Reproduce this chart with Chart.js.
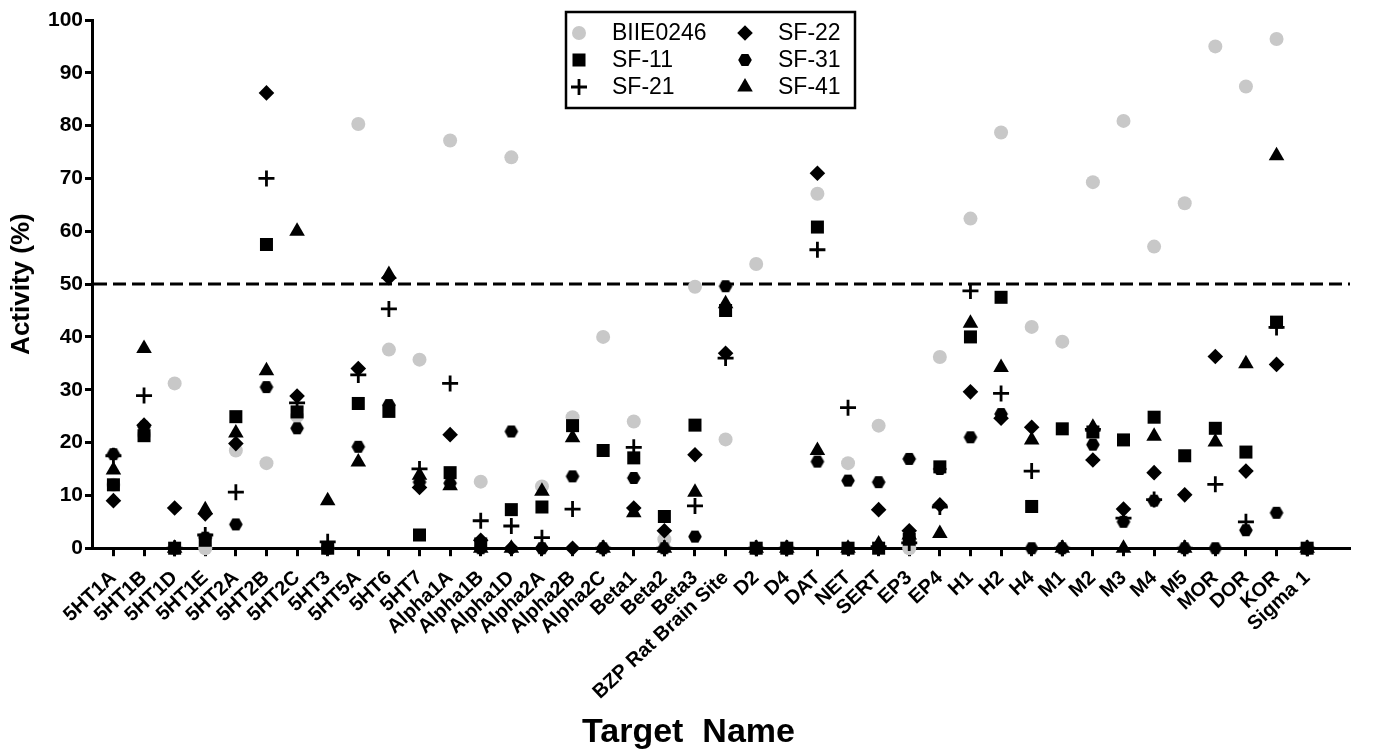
<!DOCTYPE html>
<html>
<head>
<meta charset="utf-8">
<script src="https://cdn.jsdelivr.net/npm/chart.js@4"></script>
<style>
  html, body { margin: 0; padding: 0; background: #fff; }
  #wrap { width: 1377px; height: 756px; position: relative; }
</style>
</head>
<body>
<div id="wrap"><canvas id="c" width="1377" height="756"></canvas></div>
<script>
// ---------------- data ----------------
const categories = ["5HT1A","5HT1B","5HT1D","5HT1E","5HT2A","5HT2B","5HT2C","5HT3","5HT5A","5HT6",
  "5HT7","Alpha1A","Alpha1B","Alpha1D","Alpha2A","Alpha2B","Alpha2C","Beta1","Beta2","Beta3",
  "BZP Rat Brain Site","D2","D4","DAT","NET","SERT","EP3","EP4","H1","H2",
  "H4","M1","M2","M3","M4","M5","MOR","DOR","KOR","Sigma 1"];

const seriesNames = ["BIIE0246","SF-11","SF-21","SF-22","SF-31","SF-41"];

const BIIE0246 = [12.0,21.5,31.2,0,18.5,16.1,25.0,0,80.3,37.6,
  35.7,77.2,12.6,74.0,11.7,24.8,40.0,24.0,1.7,49.5,
  20.6,53.8,0,67.1,16.1,23.2,0,36.2,62.4,78.7,
  41.9,39.1,69.3,80.9,57.1,65.3,95.0,87.4,96.4,0];

const SF11 = [12.0,21.3,0,1.5,24.9,57.5,25.8,0,27.4,25.9,
  2.5,14.3,0.8,7.3,7.8,23.2,18.5,17.1,6.0,23.3,
  45.0,0,0,60.8,0,0,1.7,15.4,40.0,47.5,
  7.9,22.6,22.0,20.5,24.8,17.5,22.7,18.2,42.8,0];

const SF21 = [17.5,28.9,0,2.5,10.6,70.0,27.5,1.2,32.8,45.3,
  15.0,31.2,5.2,4.2,2.0,7.4,0,19.1,0,8.0,
  36.0,0,0,56.5,26.6,0.3,1.0,7.8,48.7,29.3,
  14.6,0,22.5,5.7,9.2,0,12.1,5.0,41.8,0];

const SF22 = [9.0,23.3,7.6,6.5,19.8,86.2,28.8,0,34.0,51.2,
  11.5,21.5,1.5,0,0,0,0,7.6,3.3,17.7,
  36.9,0,0,71.0,0,7.3,3.3,8.2,29.6,24.6,
  22.9,0,16.7,7.4,14.3,10.1,36.3,14.6,34.8,0];

const SF31 = [17.8,23.0,0,2.0,4.5,30.5,22.7,0,19.2,27.1,
  12.5,12.3,0,22.1,0,13.6,0,13.3,0,2.2,
  49.6,0,0,16.4,12.8,12.5,16.9,15.0,21.0,25.4,
  0,0,19.6,5.0,9.0,0,0,3.4,6.7,0];

const SF41 = [14.8,37.8,0,7.3,21.8,33.6,60.0,9.0,16.3,51.8,
  13.8,11.8,0,0,10.8,20.9,0,6.7,0,10.6,
  46.3,0,0,18.5,0,0.8,2.5,2.8,42.6,34.2,
  20.5,0,22.9,0,21.2,0,20.1,34.9,74.3,0];

const yTicks = [0,10,20,30,40,50,60,70,80,90,100];
const threshold = 50;

// ---------------- styles ----------------
const FONT = '"Liberation Sans", Arial, Helvetica, sans-serif';
function makeHex(r) {
  const c = document.createElement('canvas');
  const w = Math.ceil(2 * r) + 2, h = Math.ceil(Math.sqrt(3) * r) + 2;
  c.width = w; c.height = h;
  const g = c.getContext('2d');
  g.fillStyle = '#000';
  g.beginPath();
  for (let k = 0; k < 6; k++) {
    const a = k * Math.PI / 3;
    const px = w / 2 + r * Math.cos(a), py = h / 2 + r * Math.sin(a);
    if (k) g.lineTo(px, py); else g.moveTo(px, py);
  }
  g.closePath(); g.fill();
  return c;
}
const hexImg = makeHex(6.8);

const styles = [
  { style: 'circle',   radius: 7.0, color: '#c8c8c8', border: 0, order: 1 },
  { style: 'rect',     radius: 9.2, color: '#000',    border: 0, order: 0 },
  { style: 'cross',    radius: 8.0, color: '#000',    border: 2.8, order: 0 },
  { style: 'rectRot',  radius: 7.8, color: '#000',    border: 0, order: 0 },
  { style: hexImg,     radius: 6.8, color: '#000',    border: 0, order: 0 },
  { style: 'triangle', radius: 9.0, color: '#000',    border: 0, order: 0 }
];

const seriesValues = [BIIE0246, SF11, SF21, SF22, SF31, SF41];

const datasets = seriesNames.map((name, s) => ({
  label: name,
  data: categories.map((c, i) => ({ x: i, y: seriesValues[s][i] })),
  pointStyle: styles[s].style,
  pointRadius: styles[s].radius,
  pointHoverRadius: styles[s].radius,
  backgroundColor: styles[s].color,
  borderColor: styles[s].color,
  borderWidth: styles[s].border,
  order: styles[s].order,
  clip: false,
  showLine: false
}));

// ---------------- plugins ----------------
const thresholdLine = {
  id: 'thresholdLine',
  beforeDatasetsDraw(chart) {
    const { ctx, chartArea } = chart;
    const y = chart.scales.y.getPixelForValue(threshold);
    ctx.save();
    ctx.strokeStyle = '#000';
    ctx.lineWidth = 3;
    ctx.setLineDash([13, 6]);
    ctx.beginPath();
    ctx.moveTo(chartArea.left + 2, y);
    ctx.lineTo(chartArea.right, y);
    ctx.stroke();
    ctx.restore();
  }
};

function drawMarker(ctx, st, x, y) {
  ctx.save();
  ctx.fillStyle = st.color;
  ctx.strokeStyle = st.color;
  const r = st.radius;
  if (typeof st.style !== 'string') {
    ctx.drawImage(st.style, x - st.style.width / 2, y - st.style.height / 2);
  } else if (st.style === 'circle') {
    ctx.beginPath(); ctx.arc(x, y, r, 0, Math.PI * 2); ctx.fill();
  } else if (st.style === 'rect') {
    const s = r * Math.SQRT1_2;
    ctx.fillRect(x - s, y - s, 2 * s, 2 * s);
  } else if (st.style === 'cross') {
    ctx.lineWidth = st.border;
    ctx.beginPath();
    ctx.moveTo(x - r, y); ctx.lineTo(x + r, y);
    ctx.moveTo(x, y - r); ctx.lineTo(x, y + r);
    ctx.stroke();
  } else if (st.style === 'rectRot') {
    ctx.beginPath();
    ctx.moveTo(x - r, y); ctx.lineTo(x, y - r); ctx.lineTo(x + r, y); ctx.lineTo(x, y + r);
    ctx.closePath(); ctx.fill();
  } else if (st.style === 'triangle') {
    ctx.beginPath();
    for (let k = 0; k < 3; k++) {
      const a = k * 2 * Math.PI / 3;
      const px = x + Math.sin(a) * r, py = y - Math.cos(a) * r;
      if (k) ctx.lineTo(px, py); else ctx.moveTo(px, py);
    }
    ctx.closePath(); ctx.fill();
  }
  ctx.restore();
}

const boxLegend = {
  id: 'boxLegend',
  afterDraw(chart, args, opts) {
    const ctx = chart.ctx;
    ctx.save();
    ctx.strokeStyle = '#000';
    ctx.lineWidth = 2.5;
    ctx.strokeRect(opts.left, opts.top, opts.width, opts.height);
    ctx.font = opts.fontSize + 'px ' + FONT;
    ctx.fillStyle = '#000';
    ctx.textBaseline = 'middle';
    ctx.textAlign = 'left';
    chart.data.datasets.forEach((ds, i) => {
      const col = Math.floor(i / 3), row = i % 3;
      const y = opts.top + opts.rowTop + row * opts.rowGap;
      const mx = opts.left + opts.colMarker[col];
      drawMarker(ctx, styles[i], mx, y);
      ctx.fillText(ds.label, opts.left + opts.colText[col], y + 1);
    });
    ctx.restore();
  }
};

// ---------------- chart ----------------
new Chart(document.getElementById('c'), {
  type: 'scatter',
  data: { datasets },
  plugins: [thresholdLine, boxLegend],
  options: {
    responsive: false,
    animation: false,
    events: [],
    layout: { padding: { left: 0, right: 0, top: 20, bottom: 0 } },
    plugins: {
      legend: { display: false },
      tooltip: { enabled: false },
      title: {
        display: true,
        position: 'bottom',
        text: 'Target  Name',
        color: '#000',
        font: { family: FONT, size: 34, weight: 'bold', lineHeight: 1.2 },
        padding: { top: 0, bottom: 3 }
      },
      boxLegend: {
        left: 566, top: 12, width: 289, height: 96,
        rowTop: 21, rowGap: 27,
        colMarker: [13, 179], colText: [46, 212],
        fontSize: 23
      }
    },
    scales: {
      x: {
        type: 'linear',
        min: -0.7,
        max: 40.4,
        afterBuildTicks: (scale) => { scale.ticks = categories.map((c, i) => ({ value: i })); },
        afterFit: (scale) => { scale.height = 164; },
        grid: { display: true, drawOnChartArea: false, drawTicks: true, tickLength: 8, tickWidth: 3, tickColor: '#000' },
        border: { display: true, width: 3, color: '#000' },
        ticks: {
          autoSkip: false,
          maxRotation: 43,
          minRotation: 43,
          padding: 10,
          color: '#000',
          font: { family: FONT, size: 20, weight: 'bold' },
          callback: (v) => categories[v] !== undefined ? categories[v] : ''
        }
      },
      y: {
        min: 0,
        max: 100,
        afterBuildTicks: (scale) => { scale.ticks = yTicks.map(v => ({ value: v })); },
        afterFit: (scale) => { scale.width = 92; },
        grid: { display: true, drawOnChartArea: false, drawTicks: true, tickLength: 7, tickWidth: 3, tickColor: '#000' },
        border: { display: true, width: 3, color: '#000' },
        ticks: {
          padding: 2,
          color: '#000',
          font: { family: FONT, size: 21, weight: 'bold' }
        },
        title: {
          display: true,
          text: 'Activity (%)',
          color: '#000',
          font: { family: FONT, size: 26, weight: 'bold' },
          padding: { top: 6, bottom: 0 }
        }
      },
      yRightSpace: {
        type: 'linear',
        position: 'right',
        display: true,
        afterFit: (scale) => { scale.width = 27; },
        grid: { display: false, drawTicks: false },
        border: { display: false },
        ticks: { display: false }
      }
    }
  }
});
</script>
</body>
</html>
